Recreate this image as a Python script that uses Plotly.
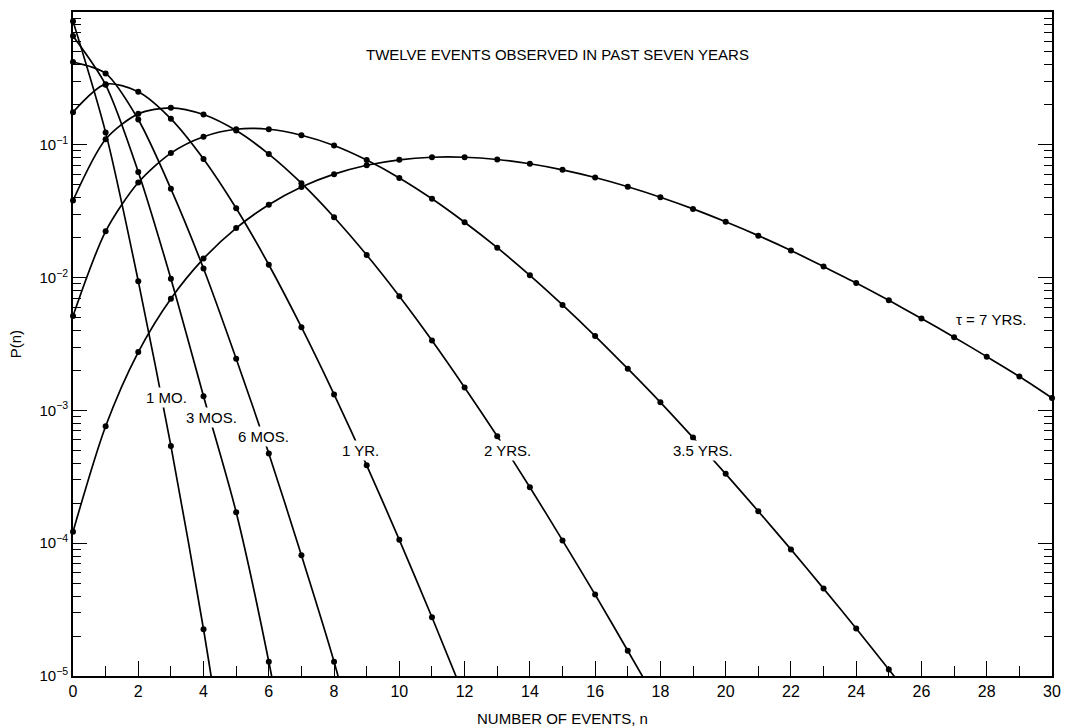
import plotly.graph_objects as go

# ---- data ----
p_1mo = [0.853, 0.124, 0.0094, 5.4e-4, 2.25e-5, 6e-7]
p_3mo = [0.659, 0.283, 0.0625, 0.0098, 1.28e-3, 1.71e-4, 1.28e-5, 6e-7]
p_6mo = [0.42, 0.345, 0.155, 0.0466, 0.0117, 2.45e-3, 4.73e-4, 8.1e-5, 1.28e-5, 1.5e-6]
p_1yr = [0.176, 0.286, 0.251, 0.157, 0.0783, 0.0333, 0.0125, 4.23e-3, 1.32e-3,
         3.86e-4, 1.06e-4, 2.77e-5, 6.9e-6]
p_2yr = [0.0381, 0.110, 0.171, 0.190, 0.169, 0.128, 0.0852, 0.0514, 0.0285, 0.0148,
         7.24e-3, 3.36e-3, 1.49e-3, 6.39e-4, 2.64e-4, 1.05e-4, 4.1e-5, 1.55e-5, 5.8e-6]
p_35yr = [5.14e-3, 0.0223, 0.0520, 0.0866, 0.115, 0.131, 0.131, 0.118, 0.0987, 0.0767,
          0.0563, 0.0392, 0.0261, 0.0168, 0.0104, 6.23e-3, 3.63e-3, 2.06e-3, 1.15e-3,
          6.24e-4, 3.33e-4, 1.74e-4, 8.98e-5, 4.55e-5, 2.28e-5, 1.12e-5, 5.5e-6]
p_7yr = [1.22e-4, 7.6e-4, 2.75e-3, 6.94e-3, 0.0139, 0.0236, 0.0354, 0.0481, 0.0601,
         0.0701, 0.0771, 0.0806, 0.0806, 0.0775, 0.0720, 0.0648, 0.0567, 0.0483, 0.0403,
         0.0329, 0.0263, 0.0207, 0.0160, 0.0121, 9.11e-3, 6.74e-3, 4.92e-3, 3.56e-3,
         2.54e-3, 1.80e-3, 1.24e-3]

series = [p_1mo, p_3mo, p_6mo, p_1yr, p_2yr, p_35yr, p_7yr]
curve_labels = ["1 MO.", "3 MOS.", "6 MOS.", "1 YR.", "2 YRS.", "3.5 YRS.", "\u03c4 = 7 YRS."]

y_tickvals = [1e-5, 1e-4, 1e-3, 1e-2, 1e-1]
y_ticktext = ["10<sup>\u22125</sup>", "10<sup>\u22124</sup>", "10<sup>\u22123</sup>",
              "10<sup>\u22122</sup>", "10<sup>\u22121</sup>"]

title_text = "TWELVE EVENTS OBSERVED IN PAST SEVEN YEARS"
x_title = "NUMBER OF EVENTS, n"
y_title = "P(n)"

FONT = "Liberation Sans, Arial, Helvetica, sans-serif"
YMIN = 1e-5

fig = go.Figure()
for vals in series:
    n = list(range(len(vals)))
    fig.add_trace(go.Scatter(x=n, y=vals, mode="lines",
                             line=dict(color="black", width=1.7, shape="spline", smoothing=0.8),
                             hoverinfo="skip", showlegend=False))
    nv = [i for i, v in zip(n, vals) if v >= YMIN]
    vv = [v for v in vals if v >= YMIN]
    fig.add_trace(go.Scatter(x=nv, y=vv, mode="markers", cliponaxis=False,
                             marker=dict(color="black", size=6),
                             showlegend=False))

# label positions (x in n units, y in log10 units)
label_pos = [(2.85, -2.90), (4.23, -3.056), (5.84, -3.20), (8.81, -3.305),
             (13.31, -3.305), (19.31, -3.305), (28.15, -2.316)]
for txt, (lx, ly) in zip(curve_labels, label_pos):
    fig.add_annotation(x=lx, y=ly, text=txt, showarrow=False,
                       font=dict(family=FONT, size=15, color="black"),
                       bgcolor="white", borderpad=1)

fig.add_annotation(x=14.86, y=-0.322, text=title_text, showarrow=False,
                   font=dict(family=FONT, size=15, color="black"))
fig.add_annotation(xref="paper", yref="paper", x=0.5, y=-0.0646, text=x_title,
                   showarrow=False, yanchor="middle",
                   font=dict(family=FONT, size=15, color="black"))
fig.add_annotation(xref="paper", yref="paper", x=-0.0589, y=0.5, text=y_title,
                   showarrow=False, textangle=-90, xanchor="center", yanchor="middle",
                   font=dict(family=FONT, size=15, color="black"))

fig.update_xaxes(range=[0, 30], dtick=2, tick0=0, ticks="inside", ticklen=15, tickwidth=1.3,
                 tickcolor="black", showline=True, linecolor="black", linewidth=1.6,
                 mirror=True, showgrid=False, zeroline=False,
                 tickfont=dict(family=FONT, size=16, color="black"),
                 minor=dict(dtick=1, ticks="inside", ticklen=10, tickwidth=1.3,
                            tickcolor="black", showgrid=False))
fig.update_yaxes(type="log", range=[-5, 0], tickvals=y_tickvals, ticktext=y_ticktext,
                 ticks="inside", ticklen=14, tickwidth=1.3, tickcolor="black",
                 showline=True, linecolor="black", linewidth=1.6, mirror="ticks",
                 showgrid=False, zeroline=False,
                 tickfont=dict(family=FONT, size=15, color="black"),
                 minor=dict(dtick="D1", ticks="inside", ticklen=8, tickwidth=1.2,
                            tickcolor="black", showgrid=False))

fig.update_layout(width=1071, height=727, margin=dict(l=73, r=13, t=10, b=51),
                  paper_bgcolor="white", plot_bgcolor="white",
                  font=dict(family=FONT, size=15, color="black"))

fig.write_html("out.html")
